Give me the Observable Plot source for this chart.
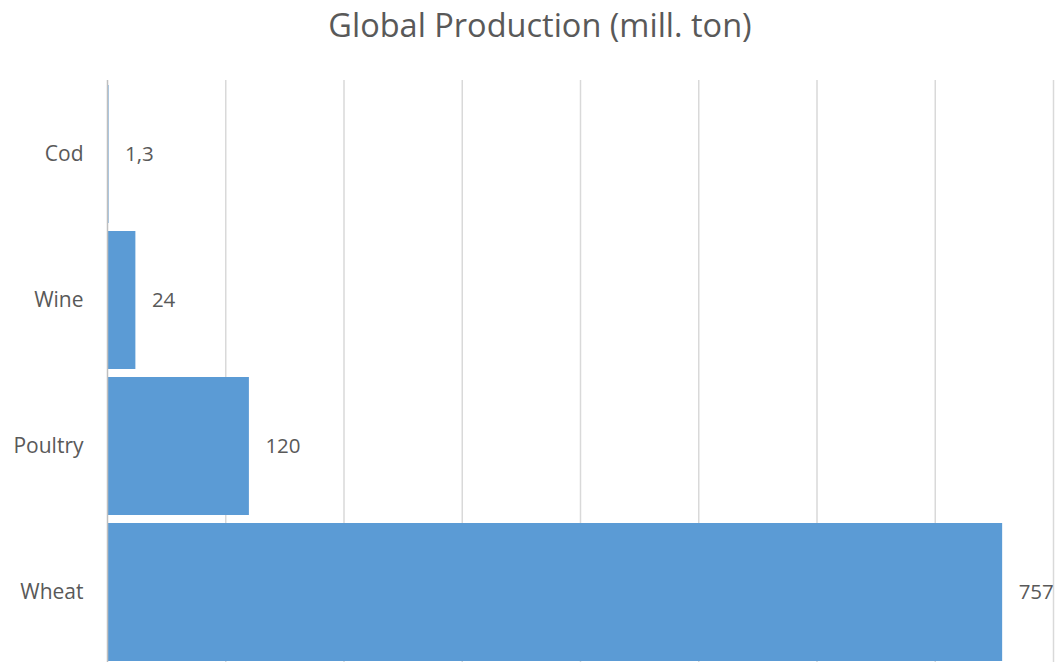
<!DOCTYPE html>
<html>
<head>
<meta charset="utf-8">
<script src="https://cdn.jsdelivr.net/npm/d3@7"></script>
<script src="https://cdn.jsdelivr.net/npm/@observablehq/plot@0.6"></script>
<style>
  html, body { margin: 0; padding: 0; background: #fff; overflow: hidden; }
  #title { height: 60px; line-height: 50px; font-family: "Open Sans", sans-serif; font-size: 32.5px; color: #595959; text-align: center; padding-left: 22px; box-sizing: border-box; width: 1058px; }
  svg { overflow: visible; display: block; }
</style>
</head>
<body>
<div id="title">Global Production (mill. ton)</div>
<div id="chart"></div>
<script>
const categories = ["Cod", "Wine", "Poultry", "Wheat"];
const values = [1.3, 24, 120, 757];
const valueLabels = ["1,3", "24", "120", "757"];
const gridTicks = [0, 100, 200, 300, 400, 500, 600, 700, 800];

const data = categories.map((c, i) => ({category: c, value: values[i], label: valueLabels[i]}));

const chart = Plot.plot({
  width: 1058,
  height: 606,
  marginLeft: 107,
  marginRight: 5,
  marginTop: 20,
  marginBottom: 0,
  style: {fontFamily: "'Open Sans', sans-serif", color: "#595959", background: "#fff", overflow: "visible"},
  x: {domain: [0, 800], axis: null},
  y: {domain: categories, paddingInner: 0.058, paddingOuter: 0.029, axis: null},
  marks: [
    Plot.ruleX(gridTicks.slice(1), {stroke: "#d9d9d9", strokeWidth: 1.5}),
    Plot.barX(data, {y: "category", x: "value", fill: "#5b9bd5"}),
    Plot.ruleX([0], {stroke: "#bfbfbf", strokeWidth: 1.5}),
    Plot.text(data, {y: "category", x: 0, text: "category", textAnchor: "end", dx: -24, fontSize: 21, fill: "#595959"}),
    Plot.text(data, {y: "category", x: "value", text: "label", textAnchor: "start", dx: 16, fontSize: 20.5, fill: "#595959"})
  ]
});
document.getElementById("chart").appendChild(chart);
</script>
</body>
</html>
